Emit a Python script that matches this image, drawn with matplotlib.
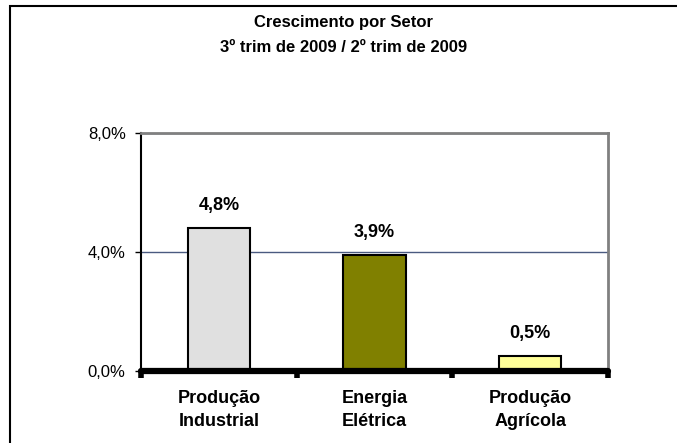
import matplotlib.pyplot as plt
from matplotlib.patches import Rectangle
from matplotlib.ticker import FixedLocator

plt.rcParams['font.family'] = ['Liberation Sans', 'DejaVu Sans']

# dados
setores = ['Produção\nIndustrial', 'Energia\nElétrica', 'Produção\nAgrícola']
crescimento = [4.8, 3.9, 0.5]
rotulos = ['4,8%', '3,9%', '0,5%']
cores = ['#E0E0E0', '#808000', '#FFFF99']
yticks = [0, 4, 8]
ytick_labels = ['0,0%', '4,0%', '8,0%']

fig = plt.figure(figsize=(6.77, 4.43), dpi=100)
ax = fig.add_axes([141 / 677, 1 - 371 / 443, (608 - 141) / 677, (371 - 133) / 443])

x = range(len(setores))
ax.bar(x, crescimento, width=0.4, color=cores, edgecolor='black', linewidth=1.5, zorder=3)

for xi, v, r in zip(x, crescimento, rotulos):
    ax.annotate(r, (xi, v), xytext=(0, 10), textcoords='offset points',
                ha='center', va='bottom', fontsize=13, fontweight='bold')

ax.set_xlim(-0.5, 2.5)
ax.set_ylim(0, 8)
ax.set_yticks(yticks)
ax.set_yticklabels(ytick_labels, fontsize=12)
ax.tick_params(axis='y', direction='out', length=4, width=1, pad=7)

ax.set_xticks(list(x))
ax.set_xticklabels(setores, fontsize=13, fontweight='bold', linespacing=1.45)
ax.tick_params(axis='x', which='major', length=0, pad=14)
ax.xaxis.set_minor_locator(FixedLocator([-0.5, 0.5, 1.5, 2.5]))
ax.tick_params(axis='x', which='minor', direction='out', length=5, width=4)

# grade
ax.yaxis.grid(True, color='#4A5A80', linewidth=1, zorder=0)

# bordas
ax.spines['left'].set_color('black')
ax.spines['left'].set_linewidth(1.5)
ax.spines['top'].set_color('#808080')
ax.spines['top'].set_linewidth(2)
ax.spines['right'].set_color('#808080')
ax.spines['right'].set_linewidth(2)
ax.spines['bottom'].set_color('black')
ax.spines['bottom'].set_linewidth(4.5)
ax.spines['bottom'].set_capstyle('round')
ax.spines['bottom'].set_zorder(4)

# titulo
fig.text(344 / 677, 1 - 22 / 443, 'Crescimento por Setor', ha='center', va='center',
         fontsize=12, fontweight='bold')
fig.text(344 / 677, 1 - 47 / 443, '3º trim de 2009 / 2º trim de 2009', ha='center', va='center',
         fontsize=12, fontweight='bold')

# moldura do grafico
fig.patches.append(Rectangle((10 / 677, -0.05), 1.0, 1 - 6 / 443 + 0.05, transform=fig.transFigure,
                             fill=False, edgecolor='black', linewidth=1.5))

fig.savefig('out.png', dpi=100)
